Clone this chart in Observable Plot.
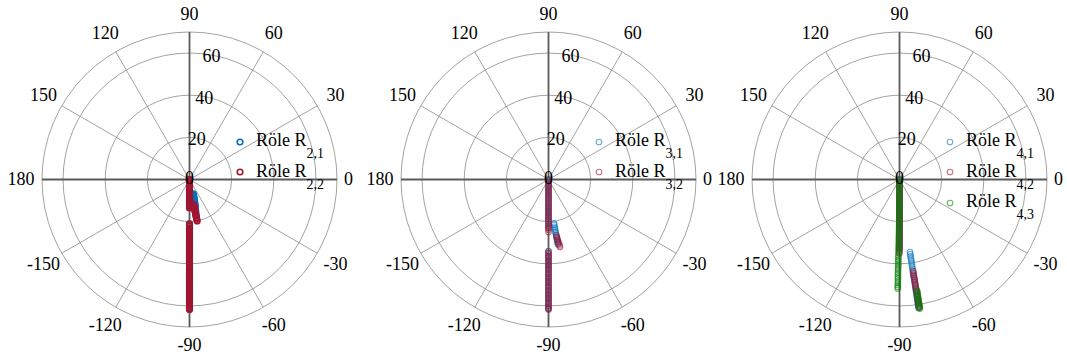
<!DOCTYPE html>
<html>
<head>
<meta charset="utf-8">
<script src="https://cdn.jsdelivr.net/npm/d3@7"></script>
<script src="https://cdn.jsdelivr.net/npm/@observablehq/plot@0.6"></script>
<style>
  body { margin: 0; background: #fff; overflow: hidden; }
  #figure { position: relative; width: 1067px; height: 356px; overflow: hidden;
            font-family: "Liberation Serif", "Tinos", "DejaVu Serif", "Noto Serif", "Times New Roman", Times, serif; }
  .panel { position: absolute; top: 0; width: 360px; height: 356px; }
  .panel svg text { font-family: "Liberation Serif", "Tinos", "DejaVu Serif", "Noto Serif", "Times New Roman", Times, serif; }
  .legend-marker { position: absolute; }
  .legend-label { position: absolute; font-size: 18px; line-height: 18px; white-space: nowrap; color: #000; }
  .legend-label .sub { font-size: 14px; position: relative; top: 12px; }
</style>
</head>
<body>
<div id="figure"></div>
<script>
// Angular grid and labels (degrees), radial rings and labels
const angleTicks = [0, 30, 60, 90, 120, 150, 180, -150, -120, -90, -60, -30];
const ringTicks = [20, 40, 60];
const radialLabels = [20, 40, 60];
const centerLabel = [0];
const radialMax = 70;

// Each sample is [angle in degrees, radius]
const roleR21 = [
  [-90,0],[-90,1.2],[-90,2.3],[-90,3.5],[-90,4.6],[-90,5.8],[-90,6.9],[-90,8.1],[-90,9.2],[-90,10.4],[-90,11.5],[-90,12.7],
  [-75.0,7.0],[-75.4,7.7],[-75.8,8.4],[-76.1,9.1],[-76.5,9.8],[-76.8,10.5],[-77.2,11.2],[-77.5,11.9],[-77.8,12.6],[-78.1,13.3],
  [-78.4,14.0],[-78.7,14.7],[-79.0,15.4],[-79.3,16.1],[-79.6,16.8],[-79.8,17.5],
  [-90,21.1],[-90,22.2],[-90,23.4],[-90,24.5],[-90,25.7],[-90,26.8],[-90,28.0],[-90,29.1],[-90,30.3],[-90,31.4],
  [-90,32.6],[-90,33.7],[-90,34.9],[-90,36.0],[-90,37.2],[-90,38.3],[-90,39.5],[-90,40.6],[-90,41.8],[-90,42.9],
  [-90,44.1],[-90,45.2],[-90,46.4],[-90,47.5],[-90,48.7],[-90,49.8],[-90,51.0],[-90,52.1],[-90,53.3],[-90,54.4],
  [-90,55.6],[-90,56.7],[-90,57.9],[-90,59.0],[-90,60.2],[-90,61.3]
];
const roleR22 = [
  [-90,0],[-90,0.8],[-90,1.7],[-90,2.5],[-90,3.4],[-90,4.2],[-90,5.1],[-90,5.9],[-90,6.8],[-90,7.6],[-90,8.5],[-90,9.3],
  [-90,10.2],[-90,11.0],[-90,11.9],[-90,12.7],[-90,13.5],
  [-80.6,12.0],[-80.4,12.8],[-80.3,13.6],[-80.2,14.4],[-80.1,15.2],[-80.0,16.0],[-79.9,16.8],[-79.8,17.6],[-79.7,18.4],
  [-79.6,19.2],[-79.5,20.0],
  [-90,21.1],[-90,22.0],[-90,23.1],[-90,24.0],[-90,25.1],[-90,26.0],[-90,27.1],[-90,28.0],[-90,29.1],[-90,30.0],
  [-90,31.1],[-90,32.0],[-90,33.1],[-90,34.0],[-90,35.1],[-90,36.0],[-90,37.1],[-90,38.0],[-90,39.1],[-90,40.0],
  [-90,41.1],[-90,42.0],[-90,43.1],[-90,44.0],[-90,45.1],[-90,46.0],[-90,47.1],[-90,48.0],[-90,49.1],[-90,50.0],
  [-90,51.1],[-90,52.0],[-90,53.1],[-90,54.0],[-90,55.1],[-90,56.0],[-90,57.1],[-90,58.0],[-90,59.1],[-90,60.0],
  [-90,61.1],[-90,61.7]
];
const roleR31 = [
  [-90,0],[-90,0.9],[-90,2.0],[-90,2.9],[-90,4.0],[-90,4.9],[-90,6.0],[-90,6.9],[-90,8.0],[-90,8.9],[-90,10.0],[-90,10.9],
  [-90,12.0],[-90,12.9],[-90,14.0],[-90,14.9],[-90,16.0],[-90,16.9],[-90,18.0],[-90,18.9],[-90,20.0],[-90,20.9],[-90,22.0],[-90,23.0],
  [-82.9,21.0],[-82.8,21.8],[-82.7,22.6],[-82.6,23.4],[-82.5,24.2],[-82.4,25.0],[-82.3,25.8],[-82.2,26.6],[-82.1,27.4],
  [-82.0,28.2],[-81.9,29.0],[-81.8,29.8],[-81.8,30.5],[-81.7,31.2],
  [-90,34.0],[-90,35.0],[-90,36.1],[-90,37.0],[-90,38.1],[-90,39.0],[-90,40.1],[-90,41.0],[-90,42.1],[-90,43.0],
  [-90,44.1],[-90,45.0],[-90,46.1],[-90,47.0],[-90,48.1],[-90,49.0],[-90,50.1],[-90,51.0],[-90,52.1],[-90,53.0],
  [-90,54.1],[-90,55.0],[-90,56.1],[-90,57.0],[-90,58.1],[-90,59.0],[-90,60.1],[-90,61.0],[-90,61.5]
];
const roleR32 = [
  [-90,0],[-90,1.0],[-90,1.9],[-90,3.0],[-90,3.9],[-90,5.0],[-90,5.9],[-90,7.0],[-90,7.9],[-90,9.0],[-90,9.9],[-90,11.0],
  [-90,11.9],[-90,13.0],[-90,13.9],[-90,15.0],[-90,15.9],[-90,17.0],[-90,17.9],[-90,19.0],[-90,19.9],[-90,21.0],[-90,21.9],
  [-90,23.0],[-90,23.9],[-90,24.9],
  [-81.9,26.9],[-81.7,27.7],[-81.5,28.5],[-81.3,29.3],[-81.0,30.1],[-80.8,30.9],[-80.5,31.7],[-80.3,32.5],
  [-90,34.2],[-90,35.1],[-90,36.2],[-90,37.1],[-90,38.2],[-90,39.1],[-90,40.2],[-90,41.1],[-90,42.2],[-90,43.1],
  [-90,44.2],[-90,45.1],[-90,46.2],[-90,47.1],[-90,48.2],[-90,49.1],[-90,50.2],[-90,51.1],[-90,52.2],[-90,53.1],
  [-90,54.2],[-90,55.1],[-90,56.2],[-90,57.1],[-90,58.2],[-90,59.1],[-90,60.2],[-90,61.1],[-90,61.7]
];
const roleR41 = [
  [-90,0],[-90,1.0],[-90,2.1],[-90,3.0],[-90,4.1],[-90,5.0],[-90,6.1],[-90,7.0],[-90,8.1],[-90,9.0],[-90,10.1],[-90,11.0],
  [-90,12.1],[-90,13.0],[-90,14.1],[-90,15.0],[-90,16.1],[-90,17.0],[-90,18.1],[-90,19.0],[-90,20.1],[-90,21.0],[-90,22.1],
  [-90,23.0],[-90,24.1],[-90,25.0],[-90,26.1],[-90,27.0],[-90,28.1],[-90,29.0],[-90,30.1],[-90,31.0],[-90,32.1],[-90,33.0],
  [-81.8,34.8],[-81.8,35.8],[-81.8,36.8],[-81.8,37.8],[-81.7,38.8],[-81.7,39.8],[-81.7,40.8],[-81.7,41.8],[-81.7,42.8],
  [-81.7,43.8],[-81.7,44.8],[-81.7,45.8],[-81.7,46.8],[-81.7,47.8],[-81.7,48.8],[-81.6,49.8],[-81.6,50.8],[-81.6,51.8],
  [-81.6,52.8],[-81.6,53.8],[-81.6,54.8],[-81.6,55.8],[-81.6,56.8],[-81.6,57.8],[-81.6,58.8],[-81.6,59.8],[-81.6,60.8],[-81.6,61.7]
];
const roleR42 = [
  [-90,0],[-90,1.1],[-90,2.0],[-90,3.1],[-90,4.0],[-90,5.1],[-90,6.0],[-90,7.1],[-90,8.0],[-90,9.1],[-90,10.0],[-90,11.1],
  [-90,12.0],[-90,13.1],[-90,14.0],[-90,15.1],[-90,16.0],[-90,17.1],[-90,18.0],[-90,19.1],[-90,20.0],[-90,21.1],[-90,22.0],
  [-90,23.1],[-90,24.0],[-90,25.1],[-90,26.0],[-90,27.1],[-90,28.0],[-90,29.1],[-90,30.0],[-90,31.1],[-90,32.0],[-90,33.1],
  [-90,34.0],[-90,35.0],
  [-81.5,43.9],[-81.5,44.8],[-81.5,45.7],[-81.5,46.6],[-81.4,47.5],[-81.4,48.4],[-81.4,49.3],[-81.4,50.2],[-81.4,51.1],
  [-81.4,52.0],[-81.4,52.9],[-81.4,53.8],[-81.3,54.7],[-81.3,55.6],[-81.3,56.5],[-81.3,57.4],[-81.3,58.3],[-81.3,59.2],
  [-81.3,60.1],[-81.3,61.0],[-81.3,61.5]
];
const roleR43 = [
  [-90.0,0],[-90.0,1.0],[-90.0,2.1],[-90.0,3.0],[-90.1,4.1],[-90.1,5.0],[-90.1,6.1],[-90.1,7.0],[-90.1,8.1],[-90.2,9.0],
  [-90.2,10.1],[-90.2,11.0],[-90.2,12.1],[-90.3,13.0],[-90.3,14.1],[-90.3,15.0],[-90.3,16.1],[-90.4,17.0],[-90.4,18.1],
  [-90.4,19.0],[-90.4,20.1],[-90.5,21.0],[-90.5,22.1],[-90.5,23.0],[-90.5,24.1],[-90.5,25.0],[-90.6,26.1],[-90.6,27.0],
  [-90.6,28.1],[-90.6,29.0],[-90.6,30.1],[-90.7,31.0],[-90.7,32.1],[-90.7,33.0],[-90.7,34.1],[-90.7,35.0],[-90.8,36.1],
  [-90.8,37.0],[-90.8,38.1],[-90.8,39.0],[-90.8,40.1],[-90.8,41.0],[-90.9,42.1],[-90.9,43.0],[-90.9,44.1],[-90.9,45.0],
  [-90.9,46.1],[-90.9,47.0],[-90.9,48.1],[-90.9,49.0],[-90.9,50.1],[-90.9,51.0],[-90.9,51.7],
  [-81.0,53.3],[-81.0,54.1],[-81.0,54.9],[-81.0,55.7],[-81.0,56.5],[-81.0,57.3],[-81.0,58.1],[-81.0,58.9],[-81.0,59.7],
  [-81.0,60.5],[-81.0,61.3],[-81.0,62.0]
];

// Series colours (drawn in this order, later ones on top)
const roleBlue = "#0072BD";
const roleRed = "#A2142F";
const roleGreen = "#008000";

const panels = [
  {left: 9, series: [roleR21, roleR22], subs: ["2,1", "2,2"], colors: [roleBlue, roleRed], opacity: 1, strokeWidth: 1.6},
  {left: 368, series: [roleR31, roleR32], subs: ["3,1", "3,2"], colors: [roleBlue, roleRed], opacity: 0.6, strokeWidth: 1.1},
  {left: 719, series: [roleR41, roleR42, roleR43], subs: ["4,1", "4,2", "4,3"], colors: [roleBlue, roleRed, roleGreen], opacity: 0.6, strokeWidth: 1.1}
];

const serif = "'Liberation Serif', 'Tinos', 'DejaVu Serif', 'Noto Serif', 'Times New Roman', Times, serif";
const W = 360, H = 356;
const inner = 295;               // plot diameter in pixels
const mL = (W - inner) / 2, mT = 31.5;
const cx = mL + inner / 2, cy = mT + inner / 2;
const rad = (a) => a * Math.PI / 180;
const px = (a, r) => r * Math.cos(rad(a));
const py = (a, r) => r * Math.sin(rad(a));
const labelRadius = (a) => a === 0 ? 75.5 : (Math.abs(a) === 90 ? 78.5 : 80);

function polarPanel(p) {
  const isMajor = (a) => a % 90 === 0;
  const marks = [
    // rings
    Plot.dot(ringTicks.concat([radialMax]), {x: () => 0, y: () => 0, r: (d) => d, fill: "none", stroke: "#8c8c8c", strokeWidth: 0.8}),
    // minor spokes
    Plot.link(angleTicks.filter((a) => !isMajor(a)), {
      x1: () => 0, y1: () => 0, x2: (a) => px(a, radialMax), y2: (a) => py(a, radialMax),
      stroke: "#8c8c8c", strokeWidth: 0.8
    }),
    // main axes
    Plot.link(angleTicks.filter(isMajor), {
      x1: () => 0, y1: () => 0, x2: (a) => px(a, radialMax), y2: (a) => py(a, radialMax),
      stroke: "#5a5a5a", strokeWidth: 1.8
    }),
    // angle labels
    Plot.text(angleTicks, {
      x: (a) => px(a, labelRadius(a)), y: (a) => py(a, labelRadius(a)), text: (a) => String(a),
      fill: "#000", fontSize: 18, fontFamily: serif
    }),
    // radial labels
    Plot.text(radialLabels, {
      x: (r) => px(80, r), y: (r) => py(80, r), text: (r) => String(r),
      fill: "#000", fontSize: 18, dy: 1.5, fontFamily: serif
    })
  ];
  p.series.forEach((s, i) => {
    marks.push(Plot.dot(s, {
      x: (d) => px(d[0], d[1]), y: (d) => py(d[0], d[1]), r: 2.8,
      fill: "none", stroke: p.colors[i], strokeOpacity: p.opacity, strokeWidth: p.strokeWidth
    }));
  });
  // radial label at the pole, on top of the samples
  marks.push(Plot.text(centerLabel, {
    x: () => 0, y: () => 0, text: (r) => String(r), fill: "#000", fontSize: 18, dy: -1, fontFamily: serif
  }));
  return Plot.plot({
    width: W, height: H,
    marginLeft: mL, marginRight: W - mL - inner, marginTop: mT, marginBottom: H - mT - inner,
    x: {domain: [-radialMax, radialMax], axis: null},
    y: {domain: [-radialMax, radialMax], axis: null},
    r: {type: "linear", domain: [0, radialMax], range: [0, inner / 2]},
    style: {fontFamily: serif, background: "transparent", overflow: "visible"},
    marks
  });
}

const fig = document.getElementById("figure");
panels.forEach((p) => {
  const div = document.createElement("div");
  div.className = "panel";
  div.style.left = p.left + "px";
  div.appendChild(polarPanel(p));
  // legend entries
  p.subs.forEach((sub, i) => {
    const my = 141.5 + 30.5 * i;
    const mx = cx + 51;
    const svg = d3.create("svg").attr("class", "legend-marker")
      .attr("width", 10).attr("height", 10)
      .style("left", (mx - 5) + "px").style("top", (my - 5) + "px");
    svg.append("circle").attr("cx", 5).attr("cy", 5).attr("r", 2.8)
      .attr("fill", "none").attr("stroke", p.colors[i])
      .attr("stroke-opacity", p.opacity).attr("stroke-width", p.strokeWidth);
    div.appendChild(svg.node());
    const lab = document.createElement("div");
    lab.className = "legend-label";
    lab.style.left = (cx + 67) + "px";
    lab.style.top = (my - 10.5) + "px";
    lab.innerHTML = 'Röle R<span class="sub">' + sub + '</span>';
    div.appendChild(lab);
  });
  fig.appendChild(div);
});
</script>
</body>
</html>
